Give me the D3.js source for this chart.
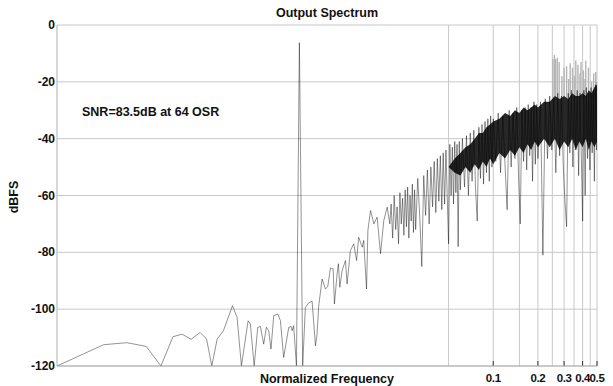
<!DOCTYPE html>
<html>
<head>
<meta charset="utf-8">
<script src="https://cdn.jsdelivr.net/npm/d3@7"></script>
<style>
  body { margin: 0; background: #fff; }
  svg { display: block; font-family: "Liberation Sans", Arial, sans-serif; }
</style>
</head>
<body>
<div id="chart"></div>
<script>
// low frequency part of the spectrum (sparse bins + signal tone)
const lowF = [0.000115, 0.000237, 0.00034, 0.000459, 0.000577, 0.000695, 0.0008, 0.00092, 0.00106, 0.00117,
  0.00127, 0.00138, 0.00152, 0.00175, 0.00188, 0.00201, 0.00223, 0.00231, 0.00245, 0.00259,
  0.0027, 0.00284, 0.00296, 0.00307, 0.00318, 0.00332, 0.00353, 0.00368, 0.00387, 0.00419,
  0.00435, 0.00442, 0.00452, 0.00472, 0.00494, 0.0052, 0.00542, 0.00571, 0.00602, 0.00634,
  0.0065, 0.00667, 0.00703, 0.0074, 0.00767, 0.008, 0.00834, 0.00851, 0.00887, 0.00905,
  0.00925, 0.00959, 0.0101, 0.01036, 0.0109, 0.01148, 0.012, 0.0124, 0.0131, 0.0134,
  0.014, 0.0143, 0.0149, 0.0157, 0.0165, 0.0174, 0.0183, 0.0193, 0.0201];
const lowDb = [-120, -112.5, -111.8, -113.1, -120, -109.7, -108.8, -110.6, -108.2, -110.5,
  -120, -110.5, -107.6, -98.8, -102.9, -120, -104.1, -105.2, -120, -106.4,
  -106.1, -112.3, -106.4, -107.6, -114, -102.3, -101.7, -104, -117, -106.4,
  -106.1, -107.6, -105.8, -120, -6.2, -120, -99.4, -97.8, -97.2, -112.9,
  -108.8, -98.8, -89.4, -92.9, -92.1, -85.5, -85.8, -98.2, -87.6, -84,
  -92.3, -86.4, -82.9, -91.1, -79.4, -77, -82.9, -74.7, -78.2, -75.8,
  -92.9, -72.3, -65.3, -70, -67.6, -80.5, -68.8, -64.1, -70];

// shaped noise region (dense bins)
const noiseF = [0.0205, 0.021, 0.0215, 0.022, 0.0225, 0.023, 0.0235, 0.024, 0.0245, 0.025,
  0.0255, 0.026, 0.0265, 0.027, 0.0275, 0.028, 0.0285, 0.029, 0.0295, 0.03,
  0.031, 0.032, 0.033, 0.034, 0.035, 0.036, 0.037, 0.038, 0.039, 0.04,
  0.041, 0.042, 0.043, 0.044, 0.045, 0.046, 0.047, 0.048, 0.049, 0.05,
  0.051, 0.052, 0.053, 0.054, 0.055, 0.056, 0.057, 0.058, 0.059, 0.06,
  0.062, 0.064, 0.066, 0.068, 0.07, 0.072, 0.074, 0.076, 0.078, 0.08,
  0.082, 0.084, 0.086, 0.088, 0.09, 0.092, 0.094, 0.096, 0.098, 0.1,
  0.104, 0.108, 0.112, 0.116, 0.12, 0.124, 0.128, 0.132, 0.136, 0.14,
  0.144, 0.148, 0.152, 0.156, 0.16, 0.164, 0.168, 0.172, 0.176, 0.18,
  0.184, 0.188, 0.192, 0.196, 0.2,
  0.208, 0.216, 0.224, 0.232, 0.24, 0.248, 0.256, 0.264, 0.272, 0.28,
  0.288, 0.296, 0.304, 0.312, 0.32, 0.328, 0.336, 0.344, 0.352, 0.36,
  0.368, 0.376, 0.384, 0.392, 0.4, 0.408, 0.416, 0.424, 0.432, 0.44,
  0.448, 0.456, 0.464, 0.472, 0.48, 0.488, 0.496, 0.5];
const noiseDb = [-63, -75, -60, -72, -64, -77, -59, -70, -61, -74,
  -58, -71, -57, -75, -60, -69, -56, -73, -58, -72,
  -54, -68, -85, -53, -67, -51, -70, -50, -64, -48,
  -66, -47, -62, -46, -65, -45, -63, -44, -61, -77,
  -42, -60, -43, -63, -41, -59, -42, -78, -41, -58,
  -40, -57, -39, -60, -38, -55, -37, -58, -69, -36,
  -54, -35, -56, -34, -52, -33, -55, -32, -50, -33,
  -48, -31, -52, -32, -49, -65, -30, -50, -31, -47,
  -29, -53, -70, -30, -48, -29, -51, -28, -46, -29,
  -55, -27, -49, -28, -47,
  -27, -81, -26, -47, -25, -44, -26, -52, -24, -46,
  -25, -49, -62, -71, -24, -45, -23, -50, -25, -44,
  -23, -53, -24, -46, -69, -23, -60, -22, -47, -24,
  -51, -22, -45, -23, -55, -21, -44, -20];

// dense (black) core of the noise band
const coreF = [0.05, 0.055, 0.06, 0.065, 0.07, 0.075, 0.08, 0.085, 0.09,
  0.095, 0.1, 0.11, 0.12, 0.13, 0.14, 0.15, 0.16, 0.17, 0.18,
  0.19, 0.2, 0.22, 0.24, 0.26, 0.28, 0.3, 0.32, 0.34, 0.36,
  0.38, 0.4, 0.42, 0.44, 0.46, 0.48, 0.5];
const coreTop = [-50, -47, -45, -43, -42, -40, -38, -38, -36,
  -35, -34, -33, -31, -32, -30, -31, -29, -30, -29,
  -28, -29, -27, -27, -25, -26, -25, -26, -24, -25,
  -25, -24, -25, -23, -24, -22, -21];
const coreBot = [-50, -52, -53, -50, -52, -49, -51, -48, -50,
  -47, -49, -45, -47, -44, -46, -43, -45, -42, -44,
  -41, -43, -40, -43, -40, -44, -41, -43, -40, -44,
  -41, -43, -40, -44, -41, -43, -41];

// idle tones sticking out above the noise
const spurF = [0.252, 0.258, 0.263, 0.27, 0.278, 0.29, 0.3, 0.312, 0.322, 0.33, 0.342, 0.352,
  0.36, 0.372, 0.384, 0.39, 0.405, 0.415, 0.42, 0.438, 0.46, 0.475, 0.49];
const spurDb = [-12, -10.5, -12, -11.5, -13, -18, -15, -14.5, -19, -13.5, -15, -18,
  -12.5, -14, -17, -13, -16, -19, -12.5, -15, -20, -17, -16.5];

const yTicks = [0, -20, -40, -60, -80, -100, -120];
const xGrid = [0.05, 0.1, 0.15, 0.2, 0.25, 0.3, 0.35, 0.4, 0.45, 0.5];
const xTickLabels = [0.1, 0.2, 0.3, 0.4, 0.5];

const W = 613, H = 386;
const m = { left: 57, right: 16, top: 25, bottom: 20 };

const svg = d3.select("#chart").append("svg")
    .attr("width", W)
    .attr("height", H);

const x = d3.scaleLog().domain([0.000115, 0.5]).range([m.left, W - m.right]);
const y = d3.scaleLinear().domain([-120, 0]).range([H - m.bottom, m.top]);

svg.append("clipPath").attr("id", "clip")
  .append("rect")
    .attr("x", m.left).attr("y", m.top)
    .attr("width", W - m.left - m.right)
    .attr("height", H - m.top - m.bottom);

// grid
svg.append("g").selectAll("line")
  .data(yTicks)
  .enter().append("line")
    .attr("x1", m.left).attr("x2", W - m.right)
    .attr("y1", d => y(d)).attr("y2", d => y(d))
    .attr("stroke", "#c8c8c8").attr("stroke-width", 1);

svg.append("g").selectAll("line")
  .data(xGrid)
  .enter().append("line")
    .attr("x1", d => x(d)).attr("x2", d => x(d))
    .attr("y1", m.top).attr("y2", H - m.bottom)
    .attr("stroke", "#c8c8c8").attr("stroke-width", 1);

// left axis line
svg.append("line")
    .attr("x1", m.left).attr("x2", m.left)
    .attr("y1", m.top).attr("y2", H - m.bottom)
    .attr("stroke", "#b0b0b0");

const plot = svg.append("g").attr("clip-path", "url(#clip)");

// spurs (light grey, behind the band)
plot.append("g").selectAll("line")
  .data(spurF.map((f, i) => ({ f, v: spurDb[i] })))
  .enter().append("line")
    .attr("x1", d => x(d.f)).attr("x2", d => x(d.f))
    .attr("y1", y(-26)).attr("y2", d => y(d.v))
    .attr("stroke", "#b4b4b4").attr("stroke-width", 1.4);

// core band
const core = coreF.map((f, i) => ({ f, t: coreTop[i], b: coreBot[i] }));
plot.append("path")
    .datum(core)
    .attr("d", d3.area().x(d => x(d.f)).y0(d => y(d.b)).y1(d => y(d.t)))
    .attr("fill", "#161616")
    .attr("fill-opacity", 0.92);

// spectrum trace
const spectrum = lowF.map((f, i) => [f, lowDb[i]])
  .concat(noiseF.map((f, i) => [f, noiseDb[i]]));

plot.append("path")
    .datum(spectrum)
    .attr("d", d3.line().x(d => x(d[0])).y(d => y(d[1])))
    .attr("fill", "none")
    .attr("stroke", "rgba(0,0,0,0.48)")
    .attr("stroke-width", 0.9)
    .attr("stroke-linejoin", "round");

// x tick marks
svg.append("g").selectAll("line")
  .data(xTickLabels)
  .enter().append("line")
    .attr("x1", d => x(d)).attr("x2", d => x(d))
    .attr("y1", H - m.bottom).attr("y2", H - m.bottom - 5)
    .attr("stroke", "#333");

// bottom axis line
svg.append("line")
    .attr("x1", m.left).attr("x2", W - m.right)
    .attr("y1", H - m.bottom).attr("y2", H - m.bottom)
    .attr("stroke", "#b0b0b0");

// labels
svg.append("g").selectAll("text")
  .data(yTicks)
  .enter().append("text")
    .attr("x", m.left - 2)
    .attr("y", d => y(d) + 4)
    .attr("text-anchor", "end")
    .style("font-size", "12px")
    .style("font-weight", "bold")
    .attr("fill", "#111")
    .text(d => d);

svg.append("g").selectAll("text")
  .data(xTickLabels)
  .enter().append("text")
    .attr("x", d => x(d))
    .attr("y", H - 4)
    .attr("text-anchor", "middle")
    .style("font-size", "11.5px")
    .style("font-weight", "bold")
    .style("letter-spacing", "-0.4px")
    .attr("fill", "#111")
    .text(d => d);

svg.append("text")
    .attr("x", 327).attr("y", 17)
    .attr("text-anchor", "middle")
    .style("font-size", "12.5px").style("font-weight", "bold")
    .attr("fill", "#111")
    .text("Output Spectrum");

svg.append("text")
    .attr("x", 327).attr("y", H - 3)
    .attr("text-anchor", "middle")
    .style("font-size", "12.5px").style("font-weight", "bold")
    .attr("fill", "#111")
    .text("Normalized Frequency");

svg.append("text")
    .attr("transform", "translate(18,197) rotate(-90)")
    .attr("text-anchor", "middle")
    .style("font-size", "12.5px").style("font-weight", "bold")
    .attr("fill", "#111")
    .text("dBFS");

svg.append("text")
    .attr("x", 82).attr("y", 116)
    .style("font-size", "12.5px").style("font-weight", "bold")
    .attr("fill", "#111")
    .text("SNR=83.5dB at 64 OSR");
</script>
</body>
</html>
